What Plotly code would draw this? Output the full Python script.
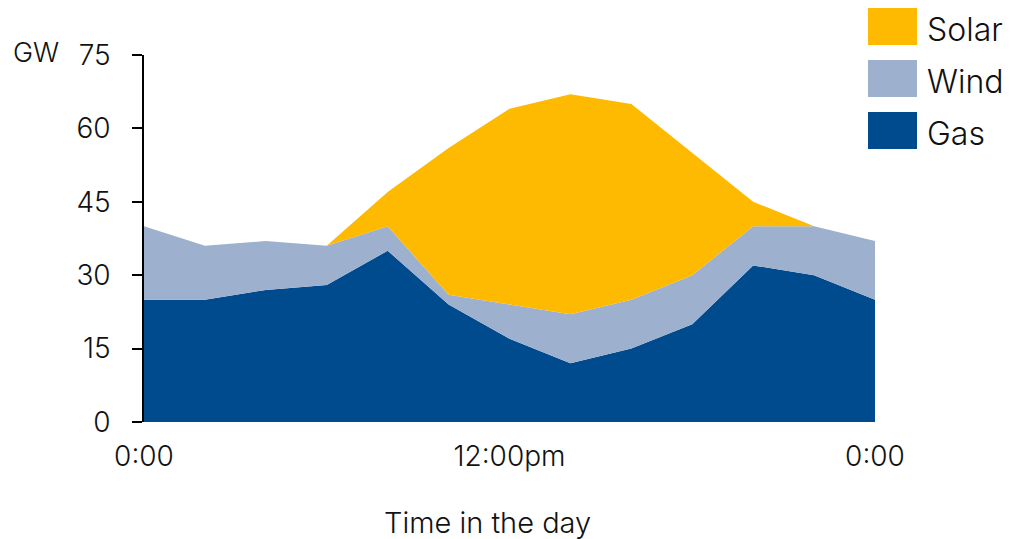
import plotly.graph_objects as go

# ──────────  DATA  ──────────
hours = [0, 2, 4, 6, 8, 10, 12, 14, 16, 18, 20, 22, 24]
gas   = [25, 25, 27, 28, 35, 24, 17, 12, 15, 20, 32, 30, 25]
wind  = [15, 11, 10, 8, 5, 2, 7, 10, 10, 10, 8, 10, 12]
solar = [0, 0, 0, 0, 7, 30, 40, 45, 40, 25, 5, 0, 0]

x_ticks  = [0, 12, 24]
x_labels = ["0:00", "12:00pm", "0:00"]
y_ticks  = [0, 15, 30, 45, 60, 75]

COLORS = {"Gas": "#004B8D", "Wind": "#9DB0CE", "Solar": "#FDBA00"}
FONT = dict(family="Inter", weight=300, color="#111")

# page body has an 8px margin -> figure sits at (8, 8)
OFF = 8
L, R, T, B = 144, 875, 55, 422      # plot area in page pixels
PW, PH = R - L, B - T

def px(x):  return (x - L) / PW
def py(y):  return (B - y) / PH

fig = go.Figure()
for name, vals in [("Gas", gas), ("Wind", wind), ("Solar", solar)]:
    fig.add_trace(go.Scatter(
        x=hours, y=vals, name=name, mode="lines",
        stackgroup="one", line=dict(width=0, color=COLORS[name]),
        fillcolor=COLORS[name], showlegend=False
    ))

fig.update_xaxes(
    range=[0, 24], tickvals=x_ticks, ticktext=x_labels,
    showgrid=False, zeroline=False, showline=False, ticks="",
    ticklabelstandoff=15, tickfont=dict(size=28, **FONT)
)
fig.update_yaxes(
    range=[0, 75], tickvals=y_ticks, showgrid=False, zeroline=False,
    showline=True, linecolor="black", linewidth=1.5,
    ticks="outside", ticklen=10, tickcolor="black", tickwidth=1.5,
    ticklabelstandoff=16, tickfont=dict(size=28, **FONT)
)

# legend boxes (drawn by hand, squares are larger than plotly's symbols)
for i, name in enumerate(["Solar", "Wind", "Gas"]):
    top = 8 + i * 52
    fig.add_shape(type="rect", xref="paper", yref="paper",
                  x0=px(868), x1=px(917), y0=py(top), y1=py(top + 37),
                  fillcolor=COLORS[name], line_width=0)
    fig.add_annotation(x=px(925), y=py(top + 21), xref="paper", yref="paper",
                       xanchor="left", yanchor="middle", text=name, showarrow=False,
                       font=dict(size=32, **FONT))

fig.add_annotation(x=px(36), y=py(52), xref="paper", yref="paper",
                   text="GW", showarrow=False, xanchor="center", yanchor="middle",
                   font=dict(size=27, **FONT))
fig.add_annotation(x=px(487), y=py(522), xref="paper", yref="paper",
                   text="Time in the day", showarrow=False, xanchor="center", yanchor="middle",
                   font=dict(size=29, **FONT))

fig.update_layout(
    width=1011 - OFF, height=539 - OFF, plot_bgcolor="white", paper_bgcolor="white",
    margin=dict(l=L - OFF, r=1011 - R, t=T - OFF, b=539 - B), showlegend=False
)

fig.write_html("out.html")
